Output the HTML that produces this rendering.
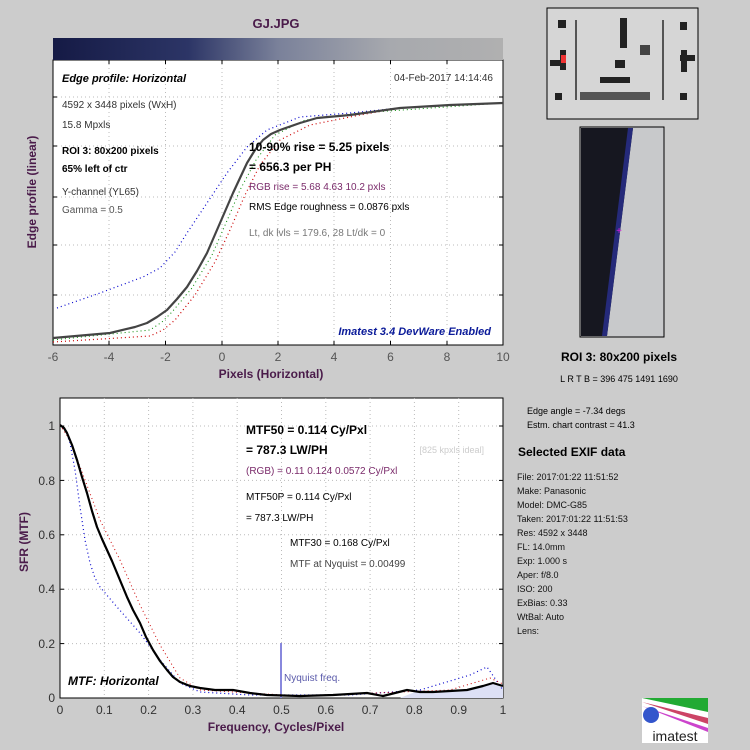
<!DOCTYPE html>
<html><head><style>
body{margin:0;background:#cccccc;}
svg{display:block;font-family:"Liberation Sans",Arial,sans-serif;white-space:pre;}
polyline{stroke-linejoin:round;}
</style></head><body>
<svg width="750" height="750" viewBox="0 0 750 750" xmlns="http://www.w3.org/2000/svg" xml:space="preserve">
<defs>
<linearGradient id="g" x1="0" x2="1" y1="0" y2="0">
<stop offset="0" stop-color="#151a45"/><stop offset="0.3" stop-color="#2c3566"/><stop offset="0.5" stop-color="#7a819a"/><stop offset="0.75" stop-color="#a7a9ae"/><stop offset="1" stop-color="#b0b0b0"/>
</linearGradient>
</defs>
<rect width="750" height="750" fill="#cccccc"/>
<text x="276" y="28" font-size="13" font-weight="bold" fill="#4a1b4a" text-anchor="middle">GJ.JPG</text>
<rect x="53" y="60" width="450" height="285" fill="#fff" stroke="#000"/>
<rect x="53" y="38" width="450" height="22" fill="url(#g)"/>
<g stroke="#bbb" stroke-dasharray="1,3">
<line x1="109" y1="60" x2="109" y2="345"/><line x1="165.5" y1="60" x2="165.5" y2="345"/><line x1="222" y1="60" x2="222" y2="345"/><line x1="278" y1="60" x2="278" y2="345"/><line x1="334" y1="60" x2="334" y2="345"/><line x1="390.5" y1="60" x2="390.5" y2="345"/><line x1="447" y1="60" x2="447" y2="345"/>
<line x1="53" y1="97" x2="503" y2="97"/><line x1="53" y1="146" x2="503" y2="146"/><line x1="53" y1="197" x2="503" y2="197"/><line x1="53" y1="245" x2="503" y2="245"/><line x1="53" y1="295" x2="503" y2="295"/>
</g>
<g stroke="#000">
<line x1="109" y1="60" x2="109" y2="64"/><line x1="165.5" y1="60" x2="165.5" y2="64"/><line x1="222" y1="60" x2="222" y2="64"/><line x1="278" y1="60" x2="278" y2="64"/><line x1="334" y1="60" x2="334" y2="64"/><line x1="390.5" y1="60" x2="390.5" y2="64"/><line x1="447" y1="60" x2="447" y2="64"/>
<line x1="109" y1="345" x2="109" y2="341"/><line x1="165.5" y1="345" x2="165.5" y2="341"/><line x1="222" y1="345" x2="222" y2="341"/><line x1="278" y1="345" x2="278" y2="341"/><line x1="334" y1="345" x2="334" y2="341"/><line x1="390.5" y1="345" x2="390.5" y2="341"/><line x1="447" y1="345" x2="447" y2="341"/>
<line x1="53" y1="97" x2="57" y2="97"/><line x1="53" y1="146" x2="57" y2="146"/><line x1="53" y1="197" x2="57" y2="197"/><line x1="53" y1="245" x2="57" y2="245"/><line x1="53" y1="295" x2="57" y2="295"/>
<line x1="503" y1="97" x2="499" y2="97"/><line x1="503" y1="146" x2="499" y2="146"/><line x1="503" y1="197" x2="499" y2="197"/><line x1="503" y1="245" x2="499" y2="245"/><line x1="503" y1="295" x2="499" y2="295"/>
</g>
<polyline fill="none" stroke="#0000cc" stroke-width="1.2" stroke-dasharray="1,3" points="57,308 100,293 143,277 160,268 175,252 187,233 207,203 227,173 247,147 267,130 300,117 350,113 400,108 503,103"/>
<polyline fill="none" stroke="#cc0000" stroke-width="1.2" stroke-dasharray="1,3" points="53,342 150,336 163,330 175,320 195,295 215,262 230,230 245,195 260,165 280,140 310,125 360,115 400,108 503,103"/>
<polyline fill="none" stroke="#008800" stroke-width="1" stroke-dasharray="1,3" points="53,340 150,330 162,322 172,312 192,288 212,255 226,223 240,190 256,160 275,135 305,120 360,113 503,103"/>
<polyline fill="none" stroke="#444" stroke-width="2.2" points="53,338 110,333 135,327 147,323 157,317 167,310 177,299 187,287 197,271 207,253 220,223 233,193 240,178 247,163 255,150 263,140 271,134 280,130 300,123 317,118 350,115 400,108 450,105 503,103"/>
<g font-size="12" fill="#555" text-anchor="middle">
<text x="53" y="361">-6</text><text x="109" y="361">-4</text><text x="165.5" y="361">-2</text><text x="222" y="361">0</text><text x="278" y="361">2</text><text x="334" y="361">4</text><text x="390.5" y="361">6</text><text x="447" y="361">8</text><text x="503" y="361">10</text>
</g>
<text x="271" y="378" font-size="12" font-weight="bold" fill="#4a1b4a" text-anchor="middle">Pixels (Horizontal)</text>
<text transform="translate(36,192) rotate(-90)" font-size="12" font-weight="bold" fill="#4a1b4a" text-anchor="middle">Edge profile (linear)</text>
<text x="62" y="82" font-size="11" font-weight="bold" font-style="italic">Edge profile: Horizontal</text>
<text x="493" y="81" font-size="10" fill="#333" text-anchor="end">04-Feb-2017 14:14:46</text>
<g font-size="10" fill="#333">
<text x="62" y="108">4592 x 3448 pixels (WxH)</text>
<text x="62" y="128">15.8 Mpxls</text>
<text x="62" y="195">Y-channel  (YL65)</text>
<text x="62" y="213" fill="#555">Gamma = 0.5</text>
</g>
<text x="62" y="154" font-size="10" font-weight="bold">ROI 3:  80x200 pixels</text>
<text x="62" y="172" font-size="10" font-weight="bold">65% left of ctr</text>
<text x="249" y="151" font-size="12" font-weight="bold">10-90% rise = 5.25 pixels</text>
<text x="249" y="171" font-size="12" font-weight="bold">= 656.3 per PH</text>
<text x="249" y="190" font-size="10" fill="#7a2a6a">RGB rise = 5.68  4.63  10.2 pxls</text>
<text x="249" y="210" font-size="10">RMS Edge roughness = 0.0876 pxls</text>
<text x="249" y="236" font-size="10" fill="#777">Lt, dk lvls = 179.6, 28   Lt/dk = 0</text>
<text x="491" y="335" font-size="11" font-weight="bold" font-style="italic" fill="#0a1a99" text-anchor="end">Imatest 3.4 DevWare Enabled</text>
<rect x="60" y="398" width="443" height="300" fill="#fff" stroke="#000"/>
<g stroke="#bbb" stroke-dasharray="1,3">
<line x1="104.3" y1="398" x2="104.3" y2="698"/><line x1="148.6" y1="398" x2="148.6" y2="698"/><line x1="192.9" y1="398" x2="192.9" y2="698"/><line x1="237.2" y1="398" x2="237.2" y2="698"/><line x1="281.5" y1="398" x2="281.5" y2="698"/><line x1="325.8" y1="398" x2="325.8" y2="698"/><line x1="370.1" y1="398" x2="370.1" y2="698"/><line x1="414.4" y1="398" x2="414.4" y2="698"/><line x1="458.7" y1="398" x2="458.7" y2="698"/>
<line x1="60" y1="643.6" x2="503" y2="643.6"/><line x1="60" y1="589.2" x2="503" y2="589.2"/><line x1="60" y1="534.8" x2="503" y2="534.8"/><line x1="60" y1="480.4" x2="503" y2="480.4"/><line x1="60" y1="426" x2="503" y2="426"/>
</g>
<g stroke="#000">
<line x1="60" y1="643.6" x2="64" y2="643.6"/><line x1="60" y1="589.2" x2="64" y2="589.2"/><line x1="60" y1="534.8" x2="64" y2="534.8"/><line x1="60" y1="480.4" x2="64" y2="480.4"/><line x1="60" y1="426" x2="64" y2="426"/>
<line x1="503" y1="643.6" x2="499" y2="643.6"/><line x1="503" y1="589.2" x2="499" y2="589.2"/><line x1="503" y1="534.8" x2="499" y2="534.8"/><line x1="503" y1="480.4" x2="499" y2="480.4"/><line x1="503" y1="426" x2="499" y2="426"/>
</g>
<polygon fill="#dde0f5" points="400,698 420,690 440,692 467,690 483,686 493,683 503,686 503,698"/>
<line x1="281" y1="643" x2="281" y2="698" stroke="#8888dd" stroke-width="2"/>
<polyline fill="none" stroke="#0000cc" stroke-width="1.2" stroke-dasharray="1,3" points="60,425 66,432 70,443 75,470 80,507 85,540 90,563 95,578 100,587 117,607 140,633 160,660 180,683 200,692 250,695 350,695 420,690 470,675 487,667 503,690"/>
<polyline fill="none" stroke="#cc0000" stroke-width="1" stroke-dasharray="1,3" points="60,425 70,440 85,480 100,520 120,560 140,605 160,645 180,678 200,690 300,696 450,690 490,678 503,684"/>
<polyline fill="none" stroke="#000" stroke-width="2.2" points="60,425 64,428 67,433 72,445 77,460 82,477 87,493 92,511 97,527 102,539 107,550 112,561 117,573 122,585 127,597 133,610 140,623 146,637 153,650 160,661 167,670 173,677 180,682 190,686 200,688 215,690 233,690 250,693 267,695 300,696 333,695 367,693 383,696 395,693 407,690 420,692 433,692 450,691 467,690 483,686 493,683 503,686"/>
<g font-size="12" fill="#333" text-anchor="end">
<text x="55" y="702">0</text><text x="55" y="648">0.2</text><text x="55" y="593">0.4</text><text x="55" y="539">0.6</text><text x="55" y="485">0.8</text><text x="55" y="430">1</text>
</g>
<g font-size="12" fill="#333" text-anchor="middle">
<text x="60" y="714">0</text><text x="104.3" y="714">0.1</text><text x="148.6" y="714">0.2</text><text x="192.9" y="714">0.3</text><text x="237.2" y="714">0.4</text><text x="281.5" y="714">0.5</text><text x="325.8" y="714">0.6</text><text x="370.1" y="714">0.7</text><text x="414.4" y="714">0.8</text><text x="458.7" y="714">0.9</text><text x="503" y="714">1</text>
</g>
<text x="276" y="731" font-size="12" font-weight="bold" fill="#4a1b4a" text-anchor="middle">Frequency, Cycles/Pixel</text>
<text transform="translate(28,542) rotate(-90)" font-size="12" font-weight="bold" fill="#4a1b4a" text-anchor="middle">SFR (MTF)</text>
<text x="68" y="685" font-size="12" font-weight="bold" font-style="italic">MTF: Horizontal</text>
<text x="284" y="681" font-size="10" fill="#5a5aaa">Nyquist freq.</text>
<text x="246" y="434" font-size="12" font-weight="bold">MTF50 = 0.114 Cy/Pxl</text>
<text x="246" y="454" font-size="12" font-weight="bold">= 787.3 LW/PH</text>
<text x="484" y="453" font-size="9" fill="#ccc" text-anchor="end">[825 kpxls ideal]</text>
<text x="246" y="474" font-size="10" fill="#7a2a6a">(RGB) = 0.11  0.124  0.0572 Cy/Pxl</text>
<text x="246" y="500" font-size="10">MTF50P = 0.114 Cy/Pxl</text>
<text x="246" y="521" font-size="10">= 787.3 LW/PH</text>
<text x="290" y="546" font-size="10">MTF30 = 0.168 Cy/Pxl</text>
<text x="290" y="567" font-size="10" fill="#444">MTF at Nyquist = 0.00499</text>
<rect x="547" y="8" width="151" height="111" fill="#d6d6d6" stroke="#000"/>
<g fill="#222">
<rect x="558" y="20" width="8" height="8"/><rect x="620" y="18" width="7" height="30"/><rect x="680" y="22" width="7" height="8"/>
<rect x="550" y="60" width="15" height="6"/><rect x="560" y="50" width="6" height="20"/><rect x="680" y="55" width="15" height="6"/><rect x="681" y="50" width="6" height="22"/>
<rect x="615" y="60" width="10" height="8"/><rect x="600" y="77" width="30" height="6"/><rect x="580" y="92" width="70" height="8" fill="#555"/><rect x="555" y="93" width="7" height="7"/><rect x="680" y="93" width="7" height="7"/>
<rect x="575" y="20" width="2" height="80" fill="#555"/><rect x="662" y="20" width="2" height="80" fill="#555"/><rect x="640" y="45" width="10" height="10" fill="#444"/>
</g>
<rect x="561" y="55" width="5" height="8" fill="#e33"/>
<rect x="580" y="127" width="84" height="210" fill="#c8c9cb" stroke="#000"/>
<polygon points="581,128 633,128 607,336 581,336" fill="#161720"/>
<polygon points="628,128 633,128 607,336 602,336" fill="#252a7a"/>
<text x="619" y="234" font-size="10" fill="#e020e0" text-anchor="middle">+</text>
<text x="619" y="361" font-size="12" font-weight="bold" text-anchor="middle">ROI 3:  80x200 pixels</text>
<text x="619" y="382" font-size="9" text-anchor="middle">L R  T B = 396 475  1491 1690</text>
<text x="527" y="414" font-size="9">Edge angle = -7.34 degs</text>
<text x="527" y="428" font-size="9">Estm. chart contrast = 41.3</text>
<text x="518" y="456" font-size="12" font-weight="bold">Selected EXIF data</text>
<g font-size="9" fill="#111">
<text x="517" y="480">File:  2017:01:22 11:51:52</text>
<text x="517" y="494">Make:  Panasonic</text>
<text x="517" y="508">Model:  DMC-G85</text>
<text x="517" y="522">Taken: 2017:01:22 11:51:53</text>
<text x="517" y="536">Res:   4592 x 3448</text>
<text x="517" y="550">FL:     14.0mm</text>
<text x="517" y="564">Exp:    1.000 s</text>
<text x="517" y="578">Aper:    f/8.0</text>
<text x="517" y="592">ISO:    200</text>
<text x="517" y="606">ExBias: 0.33</text>
<text x="517" y="620">WtBal: Auto</text>
<text x="517" y="634">Lens:</text>
</g>
<rect x="642" y="698" width="66" height="45" fill="#fff"/>
<polygon points="642,698 708,698 708,712" fill="#22aa33"/>
<polygon points="642,702 708,718 708,724" fill="#cc4466"/>
<polygon points="642,706 708,728 708,732" fill="#cc44cc"/>
<circle cx="651" cy="715" r="8" fill="#3355cc"/>
<text x="675" y="741" font-size="14" fill="#222" text-anchor="middle">imatest</text>
</svg>
</body></html>
